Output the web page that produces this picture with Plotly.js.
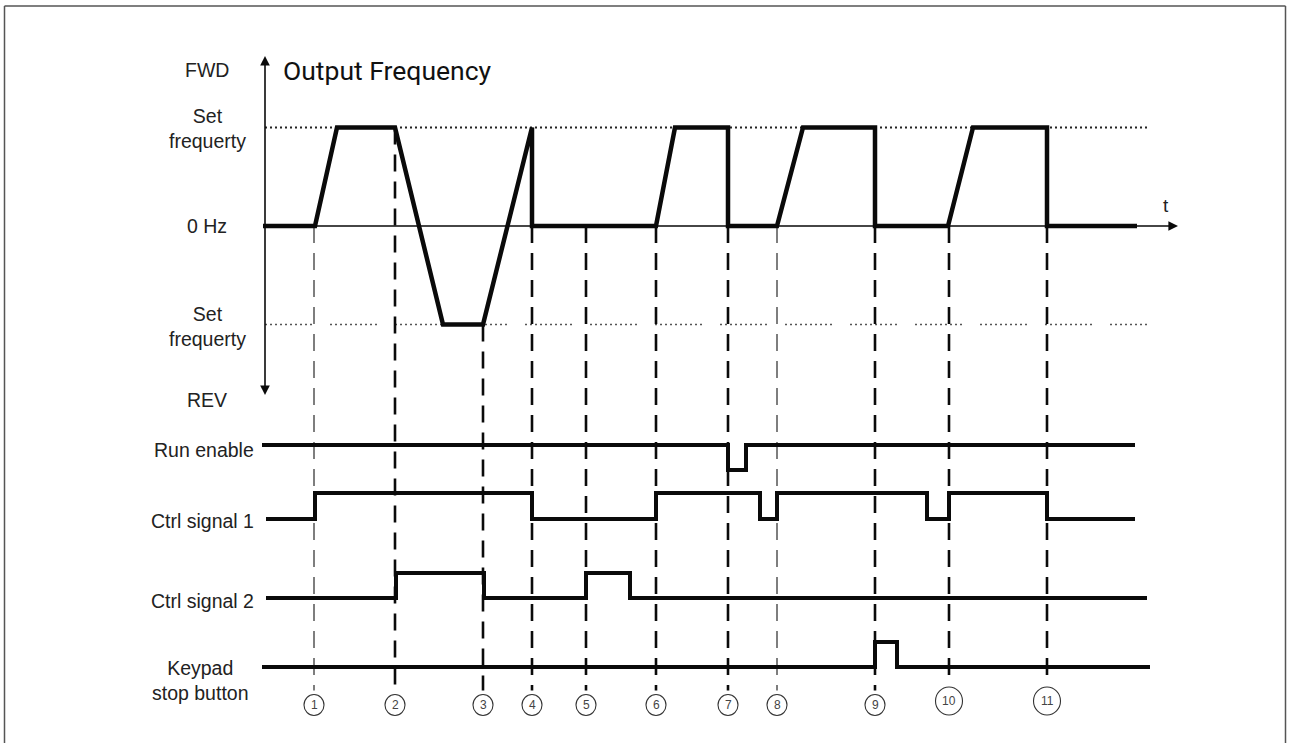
<!DOCTYPE html>
<html>
<head>
<meta charset="utf-8">
<script src="https://cdn.plot.ly/plotly-3.0.1.min.js"></script>
<style>
  html, body { margin: 0; padding: 0; background: #ffffff; }
  #chart { width: 1290px; height: 743px; }
</style>
</head>
<body>
<div id="chart"></div>
<script>
// ---------------- DATA (time in arbitrary units, levels: +1 FWD set freq, 0 = 0 Hz, -1 REV set freq) ----------------
const eventLabels = ['1','2','3','4','5','6','7','8','9','10','11'];
const eventTimes = [49, 130, 218, 267, 321, 391, 463, 512, 610, 684, 782];
const eventStartLevel = [0, 1, -1, 0, 0, 0, 0, 0, 0, 0, 0];
const eventThin = [true, false, false, false, false, false, false, true, false, false, false];

const freqTimes  = [-2, 50, 72, 130, 178, 218, 267, 267, 391, 410, 463, 463, 512, 538, 610, 610, 683, 708, 782, 782, 872];
const freqValues = [ 0,  0,  1,   1,  -1,  -1,   1,   0,   0,   1,   1,   0,   0,   1,   1,   0,   0,   1,   1,   0,   0];

const runEnableTimes  = [-3, 463, 481, 870];
const runEnableValues = [ 1,   0,   1,   1];
const ctrl1Times  = [1, 50, 267, 391, 495, 512, 662, 684, 782, 870];
const ctrl1Values = [0,  1,   0,   1,   0,   1,   0,   1,   0,   0];
const ctrl2Times  = [1, 131, 219, 321, 365, 882];
const ctrl2Values = [0,   1,   0,   1,   0,   0];
const keypadTimes  = [-3, 610, 632, 885];
const keypadValues = [ 0,   1,   0,   0];

const freqLabels = ['FWD', 'Set<br>frequerty', '0 Hz', 'Set<br>frequerty', 'REV'];
const signalLabels = ['Run enable', 'Ctrl signal 1', 'Ctrl signal 2', 'Keypad<br>stop button'];

// ---------------- LAYOUT GEOMETRY ----------------
const W = 1290, H = 743;
const X0PX = 265;                 // pixel of time 0
const ZERO_PX = 226, UNIT_PX = 98.5; // frequency axis
const toFreq = p => (ZERO_PX - p) / UNIT_PX;
const rows = [ // base pixel of level 0, pixels per unit
  {base: 470, unit: 25},
  {base: 519, unit: 26},
  {base: 598, unit: 25},
  {base: 667, unit: 25}
];
const BLACK = '#0a0a0a';
const TXT = '#222222';
const FONT = 'Liberation Sans, Arial, sans-serif';

const traces = [];
traces.push({
  x: freqTimes, y: freqValues, type: 'scatter', mode: 'lines',
  line: {color: BLACK, width: 4.5}, xaxis: 'x', yaxis: 'y', hoverinfo: 'skip', showlegend: false
});
const sigs = [[runEnableTimes, runEnableValues], [ctrl1Times, ctrl1Values], [ctrl2Times, ctrl2Values], [keypadTimes, keypadValues]];
sigs.forEach((s, i) => {
  traces.push({
    x: s[0], y: s[1], type: 'scatter', mode: 'lines',
    line: {color: BLACK, width: 4, shape: 'hv'},
    xaxis: 'x', yaxis: 'y' + (i + 2), hoverinfo: 'skip', showlegend: false
  });
});

const layout = {
  width: W, height: H,
  margin: {l: 0, r: 0, t: 0, b: 0, pad: 0},
  paper_bgcolor: '#ffffff', plot_bgcolor: '#ffffff',
  showlegend: false,
  title: {
    text: 'Output Frequency',
    x: 283 / W, xanchor: 'left', xref: 'paper',
    y: 1 - 71 / H, yanchor: 'middle', yref: 'paper',
    font: {family: 'Roboto, sans-serif', size: 26.5, color: '#111111'}
  },
  xaxis: {range: [-X0PX, W - X0PX], visible: false, fixedrange: true},
  yaxis: {range: [toFreq(H), toFreq(0)], visible: false, fixedrange: true},
  shapes: [],
  annotations: []
};
rows.forEach((r, i) => {
  layout['yaxis' + (i + 2)] = {
    range: [(r.base - H) / r.unit, r.base / r.unit],
    overlaying: 'y', visible: false, fixedrange: true
  };
});

const px2paperX = p => p / W;
const px2paperY = p => 1 - p / H;

// border (open at bottom)
[[4.5, H, 4.5, 6], [4.5, 6, 1285.5, 6], [1285.5, 6, 1285.5, H]].forEach(s => {
  layout.shapes.push({type: 'line', xref: 'paper', yref: 'paper',
    x0: px2paperX(s[0]), y0: px2paperY(s[1]), x1: px2paperX(s[2]), y1: px2paperY(s[3]),
    line: {color: '#555555', width: 1.5}});
});

// set-frequency dotted lines
const lowerDash = (Array(9).fill('2px,3px').join(',')) + ',2px,18px';
layout.shapes.push({type: 'line', xref: 'x', yref: 'y', x0: 0, x1: 882, y0: 1, y1: 1,
  line: {color: '#222222', width: 2, dash: '2px,3px'}, layer: 'below'});
layout.shapes.push({type: 'line', xref: 'x', yref: 'y', x0: 0, x1: 882, y0: -1, y1: -1,
  line: {color: '#555555', width: 1.5, dash: lowerDash}, layer: 'below'});

// event number circles geometry
const circ = eventLabels.map(l => l.length > 1 ? {cy: 701, rx: 13.5, ry: 14} : {cy: 705, rx: 10, ry: 10.5});

// event dashed lines (stop just above their circle)
eventTimes.forEach((t, i) => {
  layout.shapes.push({type: 'line', xref: 'x', yref: 'y',
    x0: t, x1: t, y0: eventStartLevel[i], y1: toFreq(circ[i].cy - circ[i].ry - 4),
    line: {color: eventThin[i] ? '#3a3a3a' : BLACK, width: eventThin[i] ? 1.3 : 2.6, dash: '17px,10px'},
    layer: 'below'});
});

eventTimes.forEach((t, i) => {
  const c = circ[i];
  layout.shapes.push({type: 'circle', xref: 'x', yref: 'y',
    x0: t - c.rx, x1: t + c.rx, y0: toFreq(c.cy + c.ry), y1: toFreq(c.cy - c.ry),
    line: {color: '#333333', width: 1.1}});
  layout.annotations.push({x: t, y: toFreq(c.cy), xref: 'x', yref: 'y', text: eventLabels[i],
    showarrow: false, xanchor: 'center', yanchor: 'middle',
    font: {family: FONT, size: 12, color: '#444444'}});
});

// axes with arrows
const arrowStyle = {showarrow: true, arrowhead: 2, arrowsize: 1.2, arrowwidth: 1.6, arrowcolor: BLACK,
  text: '', axref: 'x', ayref: 'y', xref: 'x', yref: 'y', standoff: 0, startstandoff: 0};
layout.annotations.push(Object.assign({}, arrowStyle, {x: 1178 - X0PX, y: 0, ax: -3, ay: 0}));
layout.annotations.push(Object.assign({}, arrowStyle, {x: 0, y: toFreq(56), ax: 0, ay: 0}));
layout.annotations.push(Object.assign({}, arrowStyle, {x: 0, y: toFreq(395), ax: 0, ay: 0}));
layout.annotations.push({x: px2paperX(1166), y: px2paperY(205), xref: 'paper', yref: 'paper', text: 't',
  showarrow: false, xanchor: 'center', yanchor: 'middle', font: {family: FONT, size: 19, color: TXT}});

// frequency labels
const freqLabelY = [70, 128, 226, 326, 400];
freqLabels.forEach((s, i) => {
  layout.annotations.push({x: px2paperX(207), y: px2paperY(freqLabelY[i]), xref: 'paper', yref: 'paper',
    text: s, showarrow: false, xanchor: 'center', yanchor: 'middle', align: 'center',
    font: {family: FONT, size: 19.5, color: TXT}});
});

// signal labels
const sigLabelY = [450, 521, 601, 680];
signalLabels.forEach((s, i) => {
  const multi = s.indexOf('<br>') >= 0;
  layout.annotations.push({x: px2paperX(multi ? 200 : 256), y: px2paperY(sigLabelY[i]), xref: 'paper', yref: 'paper',
    text: s, showarrow: false, xanchor: multi ? 'center' : 'right', yanchor: 'middle', align: 'center',
    font: {family: FONT, size: 19.5, color: TXT}});
});

Plotly.newPlot('chart', traces, layout, {displayModeBar: false, staticPlot: true});
</script>
</body>
</html>
